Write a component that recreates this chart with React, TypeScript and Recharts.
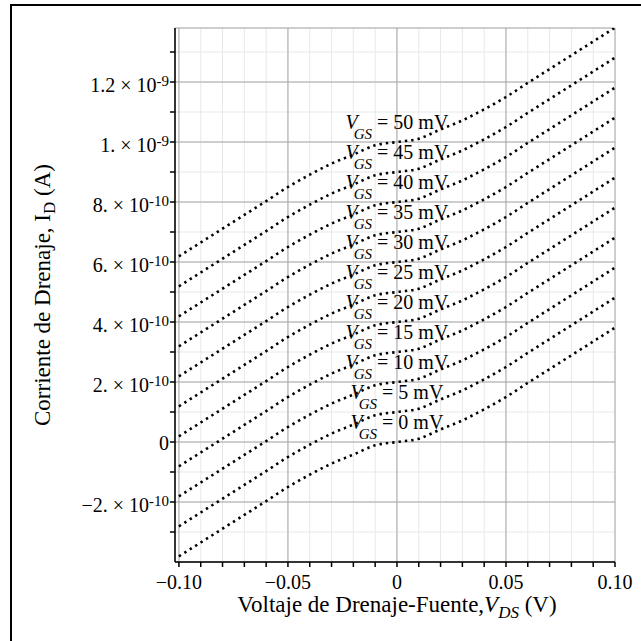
import React from 'react'
import {
  LineChart,
  Line,
  XAxis,
  YAxis,
  CartesianGrid,
  ReferenceDot,
  Label,
} from 'recharts'

const FONT = '"Liberation Serif", "Times New Roman", serif'

// drain-source voltage samples (V)
const vds = [
  -0.1, -0.09, -0.08, -0.07, -0.06, -0.05, -0.04, -0.03, -0.02, -0.01, 0,
  0.01, 0.02, 0.03, 0.04, 0.05, 0.06, 0.07, 0.08, 0.09, 0.1,
]
// I_D for the VGS = 0 mV curve (units of 1e-10 A)
const idShape = [
  -3.81, -3.35, -2.89, -2.43, -1.97, -1.5, -1.09, -0.72, -0.42, -0.11, 0,
  0.11, 0.42, 0.72, 1.09, 1.5, 1.97, 2.43, 2.89, 3.35, 3.81,
]
// gate voltages and the current each curve has at VDS = 0 (1e-10 A)
const vgsLevels = [0, 5, 10, 15, 20, 25, 30, 35, 40, 45, 50]
const idAtZero = [0, 1, 2, 3, 4, 5, 6, 7, 8, 9, 10]

const xTicks = [
  -0.1, -0.09, -0.08, -0.07, -0.06, -0.05, -0.04, -0.03, -0.02, -0.01, 0,
  0.01, 0.02, 0.03, 0.04, 0.05, 0.06, 0.07, 0.08, 0.09, 0.1,
]
const xMajorTicks = [-0.1, -0.05, 0, 0.05, 0.1]
const xTickLabels = ['\u22120.10', '\u22120.05', '0', '0.05', '0.10']

const yTicks = [-3, -2, -1, 0, 1, 2, 3, 4, 5, 6, 7, 8, 9, 10, 11, 12, 13]
const yMajorTicks = [-2, 0, 2, 4, 6, 8, 10, 12]
const yTickMantissa = ['\u22122.', '0', '2.', '4.', '6.', '8.', '1.', '1.2']
const yTickExp = ['-10', '', '-10', '-10', '-10', '-10', '-9', '-9']

const data = vds.map((v, i) => {
  const row: Record<string, number> = { v }
  vgsLevels.forEach((g, k) => {
    row[`g${g}`] = idShape[i] + idAtZero[k]
  })
  return row
})

function XTick(props: any) {
  const { x, y, payload } = props
  const i = xMajorTicks.findIndex((t) => Math.abs(t - payload.value) < 1e-9)
  if (i < 0) return <g />
  return (
    <text x={x} y={y + 20} textAnchor="middle" fontFamily={FONT} fontSize={20} fill="#000">
      {xTickLabels[i]}
    </text>
  )
}

function YTick(props: any) {
  const { x, y, payload } = props
  const i = yMajorTicks.indexOf(payload.value)
  if (i < 0) return <g />
  if (!yTickExp[i]) {
    return (
      <text x={x} y={y + 8} textAnchor="end" fontFamily={FONT} fontSize={20} fill="#000">
        {yTickMantissa[i]}
      </text>
    )
  }
  return (
    <text x={x} y={y + 10} textAnchor="end" fontFamily={FONT} fontSize={20} fill="#000">
      {yTickMantissa[i]}
      <tspan dx={5}>{'\u00d7'}</tspan>
      <tspan dx={5}>10</tspan>
      <tspan fontSize={15} dy={-6}>
        {yTickExp[i]}
      </tspan>
    </text>
  )
}

function XTitle(props: any) {
  const vb = props.viewBox || { x: 175, y: 562, width: 440 }
  return (
    <text x={vb.x + vb.width / 2 + 2} y={vb.y + 50} textAnchor="middle" fontFamily={FONT} fontSize={23} fill="#000">
      Voltaje de Drenaje-Fuente,
      <tspan fontStyle="italic">V</tspan>
      <tspan fontStyle="italic" fontSize={17} dy={6}>
        DS
      </tspan>
      <tspan dy={-6}> (V)</tspan>
    </text>
  )
}

function YTitle(props: any) {
  const vb = props.viewBox || { x: 0, y: 28, width: 175, height: 534 }
  const cx = 50
  const cy = vb.y + vb.height / 2
  return (
    <text
      x={cx}
      y={cy}
      textAnchor="middle"
      fontFamily={FONT}
      fontSize={23}
      fill="#000"
      transform={`rotate(-90 ${cx} ${cy})`}
    >
      Corriente de Drenaje, I
      <tspan fontSize={17} dy={5}>
        D
      </tspan>
      <tspan dy={-5}> (A)</tspan>
    </text>
  )
}

function curveLabel(g: number) {
  return (p: any) => (
    <text x={p.cx} y={p.cy + 2} textAnchor="middle" fontFamily={FONT} fontSize={20} fill="#000">
      <tspan fontStyle="italic">V</tspan>
      <tspan fontStyle="italic" fontSize={15} dx={-4} dy={10}>
        GS
      </tspan>
      <tspan dy={-10}>{` = ${g} mV`}</tspan>
    </text>
  )
}

export default function App() {
  return (
    <div
      style={{
        position: 'absolute',
        left: 0,
        top: 0,
        width: 641,
        height: 641,
        overflow: 'hidden',
        background: '#fff',
      }}
    >
      <div
        style={{
          position: 'absolute',
          left: 10,
          top: 4,
          width: 700,
          height: 700,
          border: '2px solid #000',
          boxSizing: 'border-box',
        }}
      />
      <div style={{ position: 'absolute', left: 0, top: 0 }}>
        <LineChart
          width={641}
          height={641}
          data={data}
          margin={{ top: 28, right: 26, bottom: 0, left: 0 }}
        >
          <XAxis
            xAxisId="x"
            dataKey="v"
            type="number"
            domain={[-0.1018, 0.1]}
            allowDataOverflow
            ticks={xTicks}
            tick={<XTick />}
            tickSize={5}
            tickMargin={2}
            height={79}
            interval={0}
            stroke="#000"
            strokeWidth={1.5}
          >
            <Label content={<XTitle />} />
          </XAxis>
          <XAxis
            xAxisId="xm"
            dataKey="v"
            type="number"
            domain={[-0.1018, 0.1]}
            allowDataOverflow
            ticks={xMajorTicks}
            hide
          />
          <YAxis
            yAxisId="y"
            type="number"
            domain={[-4, 13.8]}
            allowDataOverflow
            ticks={yTicks}
            tick={<YTick />}
            tickSize={5}
            tickMargin={1}
            width={175}
            interval={0}
            stroke="#000"
            strokeWidth={1.5}
          >
            <Label content={<YTitle />} />
          </YAxis>
          <YAxis
            yAxisId="ym"
            type="number"
            domain={[-4, 13.8]}
            allowDataOverflow
            ticks={yMajorTicks}
            hide
          />
          <CartesianGrid xAxisId="x" yAxisId="y" stroke="#e8e8e8" strokeWidth={1} />
          <CartesianGrid xAxisId="xm" yAxisId="ym" stroke="#a8a8a8" strokeWidth={1} />
          {vgsLevels.map((g, k) => (
            <ReferenceDot
              key={`lab-${g}`}
              xAxisId="x"
              yAxisId="y"
              x={0}
              y={idAtZero[k] + 0.5}
              r={0}
              shape={curveLabel(g)}
            />
          ))}
          {vgsLevels.map((g) => (
            <Line
              key={`g${g}`}
              xAxisId="x"
              yAxisId="y"
              dataKey={`g${g}`}
              type="monotone"
              stroke="#000"
              strokeWidth={2.6}
              strokeDasharray="2.4 4"
              dot={false}
              activeDot={false}
              isAnimationActive={false}
            />
          ))}
        </LineChart>
      </div>
    </div>
  )
}
